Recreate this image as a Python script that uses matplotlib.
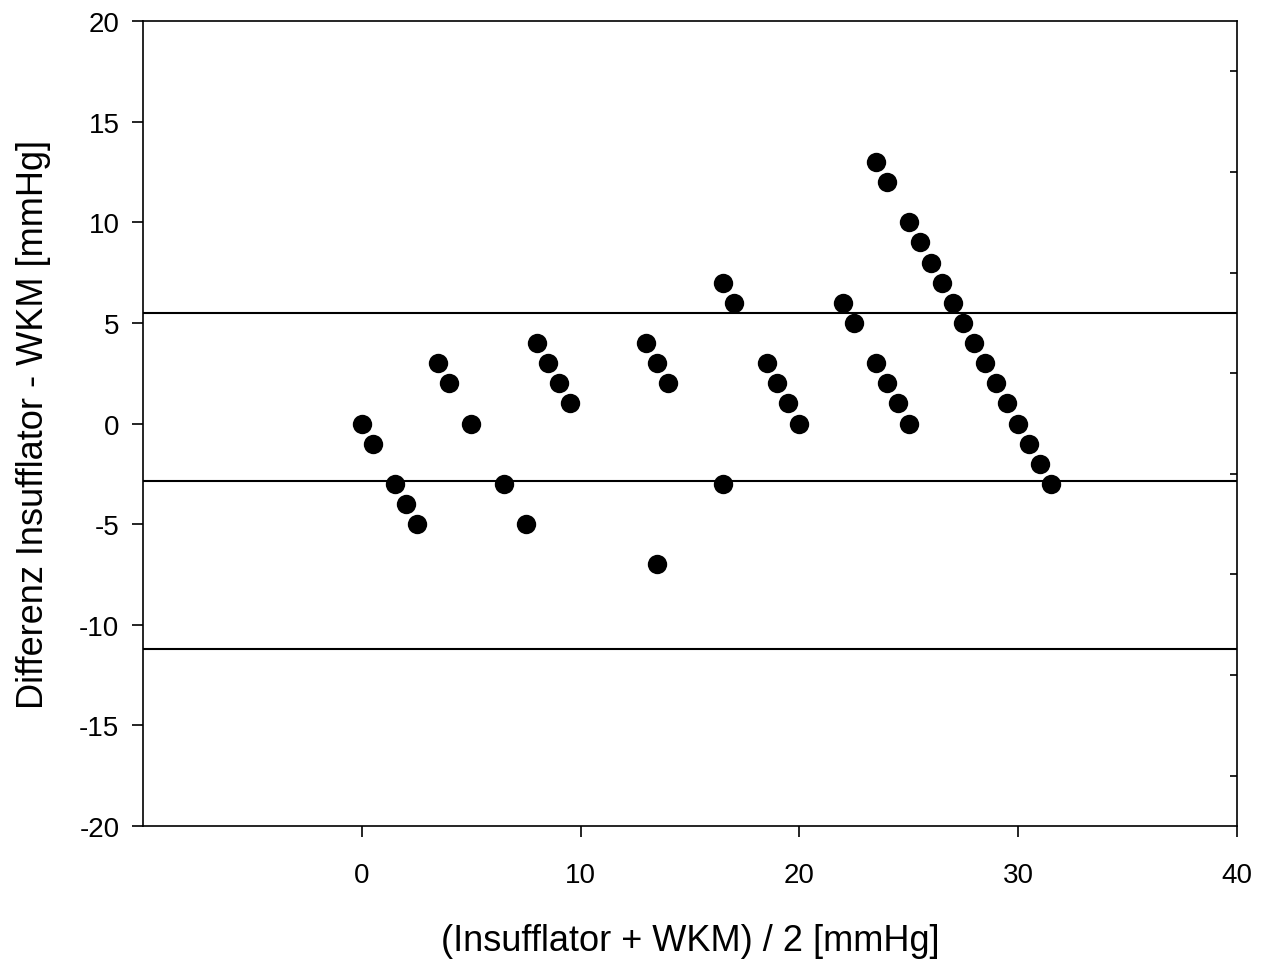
import matplotlib
matplotlib.use("Agg")
import matplotlib.pyplot as plt
import numpy as np

plt.rcParams['font.family'] = ['Liberation Sans', 'DejaVu Sans']
plt.rcParams['axes.unicode_minus'] = False

# Bland-Altman data: mean of both methods vs difference
mean_vals = [0, 0.5, 1.5, 2, 2.5, 3.5, 4, 5, 6.5, 7.5,
             8, 8.5, 9, 9.5, 13, 13.5, 14, 13.5, 16.5, 17,
             16.5, 18.5, 19, 19.5, 20, 22, 22.5, 23.5, 24, 24.5,
             25, 23.5, 24, 25, 25.5, 26, 26.5, 27, 27.5, 28,
             28.5, 29, 29.5, 30, 30.5, 31, 31.5]
diff_vals = [0, -1, -3, -4, -5, 3, 2, 0, -3, -5,
             4, 3, 2, 1, 4, 3, 2, -7, 7, 6,
             -3, 3, 2, 1, 0, 6, 5, 3, 2, 1,
             0, 13, 12, 10, 9, 8, 7, 6, 5, 4,
             3, 2, 1, 0, -1, -2, -3]

bias = -2.86
upper_loa = 5.47
lower_loa = -11.2

fig = plt.figure(figsize=(12.68, 9.62), dpi=100)
ax = fig.add_axes([0.1128, 0.1403, 0.8627, 0.8368])

for yv in [upper_loa, bias, lower_loa]:
    ax.axhline(yv, color='black', lw=1.5, zorder=1)

ax.scatter(mean_vals, diff_vals, s=195, color='black', zorder=3, linewidths=0)

ax.set_xlim(-10, 40)
ax.set_ylim(-20, 20)
ax.set_xticks([0, 10, 20, 30, 40])
ax.set_yticks(np.arange(-20, 21, 5))
ax.set_yticks(np.arange(-17.5, 20, 5), minor=True)

ax.tick_params(axis='both', which='major', direction='out', length=8, width=1.2,
               labelsize=20)
ax.tick_params(axis='y', which='major', pad=9)
ax.tick_params(axis='x', which='major', pad=18)
ax.tick_params(axis='y', which='minor', left=False, right=True, direction='in',
               length=5, width=1.2)
for sp in ax.spines.values():
    sp.set_linewidth(1.2)

ax.set_xlabel('(Insufflator + WKM) / 2 [mmHg]', fontsize=26, labelpad=25)
ax.set_ylabel('Differenz Insufflator - WKM [mmHg]', fontsize=26, labelpad=20)

fig.savefig('out.png', dpi=100)
